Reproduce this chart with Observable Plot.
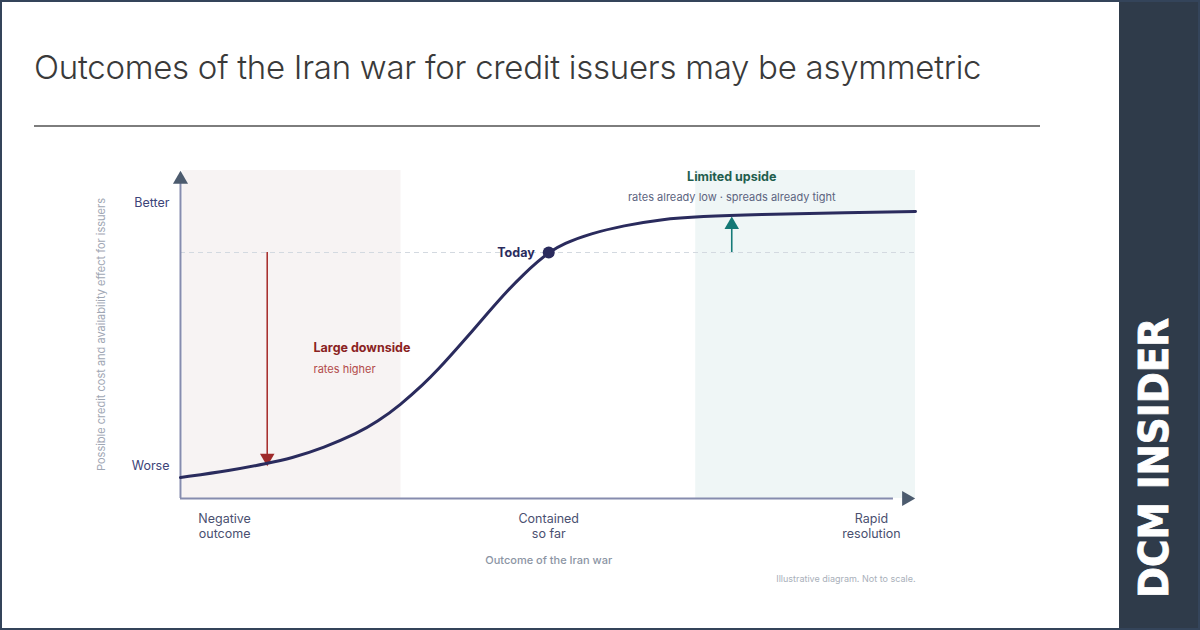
<!DOCTYPE html>
<html>
<head>
<meta charset="utf-8">
<script src="https://cdn.jsdelivr.net/npm/d3@7"></script>
<script src="https://cdn.jsdelivr.net/npm/@observablehq/plot@0.6"></script>
<style>
  html, body { margin: 0; padding: 0; background: #fff; }
  #frame { position: relative; width: 1200px; height: 630px; box-sizing: border-box; border: 2px solid #34445a; background: #fff; overflow: hidden; font-family: Inter, "Noto Sans", sans-serif; }
  #title { position: absolute; left: 32px; top: 47px; font-family: Inter, sans-serif; font-weight: 300; font-size: 33px; letter-spacing: -0.27px; line-height: 36px; color: #3a3a3a; white-space: nowrap; }
  #rule { position: absolute; left: 32px; top: 123px; width: 1006px; height: 2px; background: #7d7d7d; }
  #panel { position: absolute; left: 1117px; top: 0; width: 83px; height: 630px; background: #2f3b4a; }
  #chart { position: absolute; left: -2px; top: 148px; }
  #logo { position: absolute; left: 1117px; top: 0; }
</style>
</head>
<body>
<div id="frame">
  <div id="title">Outcomes of the Iran war for credit issuers may be asymmetric</div>
  <div id="rule"></div>
  <div id="panel"></div>
  <svg id="logo" width="83" height="630"><text transform="translate(49,596) rotate(-90)" textLength="280" lengthAdjust="spacingAndGlyphs" font-family="'DejaVu Sans Condensed', 'Liberation Sans Narrow', sans-serif" font-weight="bold" font-size="41" fill="#ffffff" stroke="#ffffff" stroke-width="0.8">DCM INSIDER</text></svg>
  <div id="chart"></div>
</div>
<script>
// ---- data (illustrative diagram) ----
const curveX = [0, 6.8, 11.8, 15.0, 19.5, 24.1, 26.8, 29.9, 33.1, 35.0, 38.1, 42.2, 44.5, 46.7, 48.6, 50.1, 52.1, 55.8, 60.3, 65.3, 70.7, 78.9, 88.4, 100];
const curveY = [6.4, 8.5, 10.7, 12.2, 15.5, 19.9, 23.4, 28.5, 34.9, 39.2, 46.9, 57.6, 63.4, 68.4, 72.2, 75.0, 77.7, 80.8, 83.2, 85.1, 86.0, 86.6, 87.0, 87.5];
const todayX = 50.1, todayY = 75;
const yTickValues = [9.8, 90.2];
const yTickLabels = ["Worse", "Better"];
const xTickValues = [6, 50.1, 94];
const xTickLabels = ["Negative\noutcome", "Contained\nso far", "Rapid\nresolution"];
const bandX1 = [0.3, 70.1];
const bandX2 = [30, 100];
const bandFill = ["#f7f3f3", "#eff6f6"];
const downsideX = 11.8, downsideTip = 9.8;
const upsideX = 75.0, upsideTip = 86.0;
const yAxisLabel = "Possible credit cost and availability effect for issuers";
const xAxisLabel = "Outcome of the Iran war";
const note = "Illustrative diagram. Not to scale.";

const curve = curveX.map((x, i) => ({x, y: curveY[i]}));
const bands = bandX1.map((x1, i) => ({x1, x2: bandX2[i], fill: bandFill[i]}));
const yTicks = yTickValues.map((y, i) => ({y, label: yTickLabels[i]}));
const xTicks = xTickValues.map((x, i) => ({x, label: xTickLabels[i]}));

const chart = Plot.plot({
  width: 1000,
  height: 460,
  marginLeft: 180,
  marginRight: 85,
  marginTop: 20,
  marginBottom: 112,
  x: {domain: [0, 100], axis: null},
  y: {domain: [0, 100], axis: null},
  style: {fontFamily: "Inter, 'Noto Sans', sans-serif", background: "transparent", overflow: "visible"},
  marks: [
    Plot.rect(bands, {x1: "x1", x2: "x2", y1: 0, y2: 100, fill: d => d.fill}),
    Plot.ruleY([todayY], {x1: 0, x2: 100, stroke: "#d3d9e0", strokeDasharray: "5,4", strokeWidth: 1}),
    // axes
    Plot.ruleX([0], {y1: 0, y2: 97, stroke: "#868cae", strokeWidth: 2}),
    Plot.ruleY([0], {x1: 0, x2: 97, stroke: "#868cae", strokeWidth: 2}),
    Plot.dot([0], {x: 0, y: 100, dy: 9, symbol: "triangle", r: 5.6, fill: "#4c5b6e", stroke: null}),
    Plot.dot([0], {x: 100, y: 0, dx: -9, symbol: "triangle", r: 5.6, rotate: 90, fill: "#4c5b6e", stroke: null}),
    // downside arrow
    Plot.ruleX([downsideX], {y1: todayY, y2: downsideTip + 3, stroke: "#a8302f", strokeWidth: 1.6}),
    Plot.dot([0], {x: downsideX, y: downsideTip, dy: -8.4, symbol: "triangle", r: 5.4, rotate: 180, fill: "#9e2a2a", stroke: null}),
    // upside arrow
    Plot.ruleX([upsideX], {y1: todayY, y2: upsideTip - 3, stroke: "#167b78", strokeWidth: 1.6}),
    Plot.dot([0], {x: upsideX, y: upsideTip, dy: 8.4, symbol: "triangle", r: 5.4, fill: "#147875", stroke: null}),
    // curve
    Plot.line(curve, {x: "x", y: "y", curve: "basis", stroke: "#2a2b5d", strokeWidth: 3}),
    Plot.dot([0], {x: todayX, y: todayY, r: 6, fill: "#2a2b5d", stroke: null}),
    Plot.text(["Today"], {x: todayX, y: todayY, dx: -14, textAnchor: "end", fontWeight: 700, fontSize: 12.5, fill: "#2a2b5d"}),
    // y ticks
    Plot.text(yTicks, {x: 0, y: "y", text: "label", dx: -11, textAnchor: "end", fontSize: 12.5, fill: "#3c4478"}),
    Plot.text([yAxisLabel], {x: 0, y: 50, dx: -79, rotate: -90, fontSize: 11, fill: "#9fa7b4"}),
    // x ticks
    Plot.text(xTicks, {x: "x", y: 0, text: "label", dy: 27.5, lineHeight: 1.2, fontSize: 12.5, fill: "#4a5070"}),
    Plot.text([xAxisLabel], {x: 50.1, y: 0, dy: 62, fontSize: 11, fontWeight: 500, fill: "#8c95a4"}),
    Plot.text([note], {x: 100, y: 0, dy: 81, textAnchor: "end", fontSize: 9, fill: "#a9b0ba"}),
    // annotations
    Plot.text(["Large downside"], {x: 18.1, y: 46.0, textAnchor: "start", fontWeight: 700, fontSize: 12.5, fill: "#8a2222"}),
    Plot.text(["rates higher"], {x: 18.1, y: 39.3, textAnchor: "start", fontSize: 11, fill: "#b24a4a"}),
    Plot.text(["Limited upside"], {x: 75.0, y: 97.9, fontWeight: 700, fontSize: 12.5, fill: "#1f5e4e"}),
    Plot.text(["rates already low · spreads already tight"], {x: 75.0, y: 91.8, fontSize: 11, fill: "#5c6480"})
  ]
});
document.getElementById("chart").appendChild(chart);
</script>
</body>
</html>
